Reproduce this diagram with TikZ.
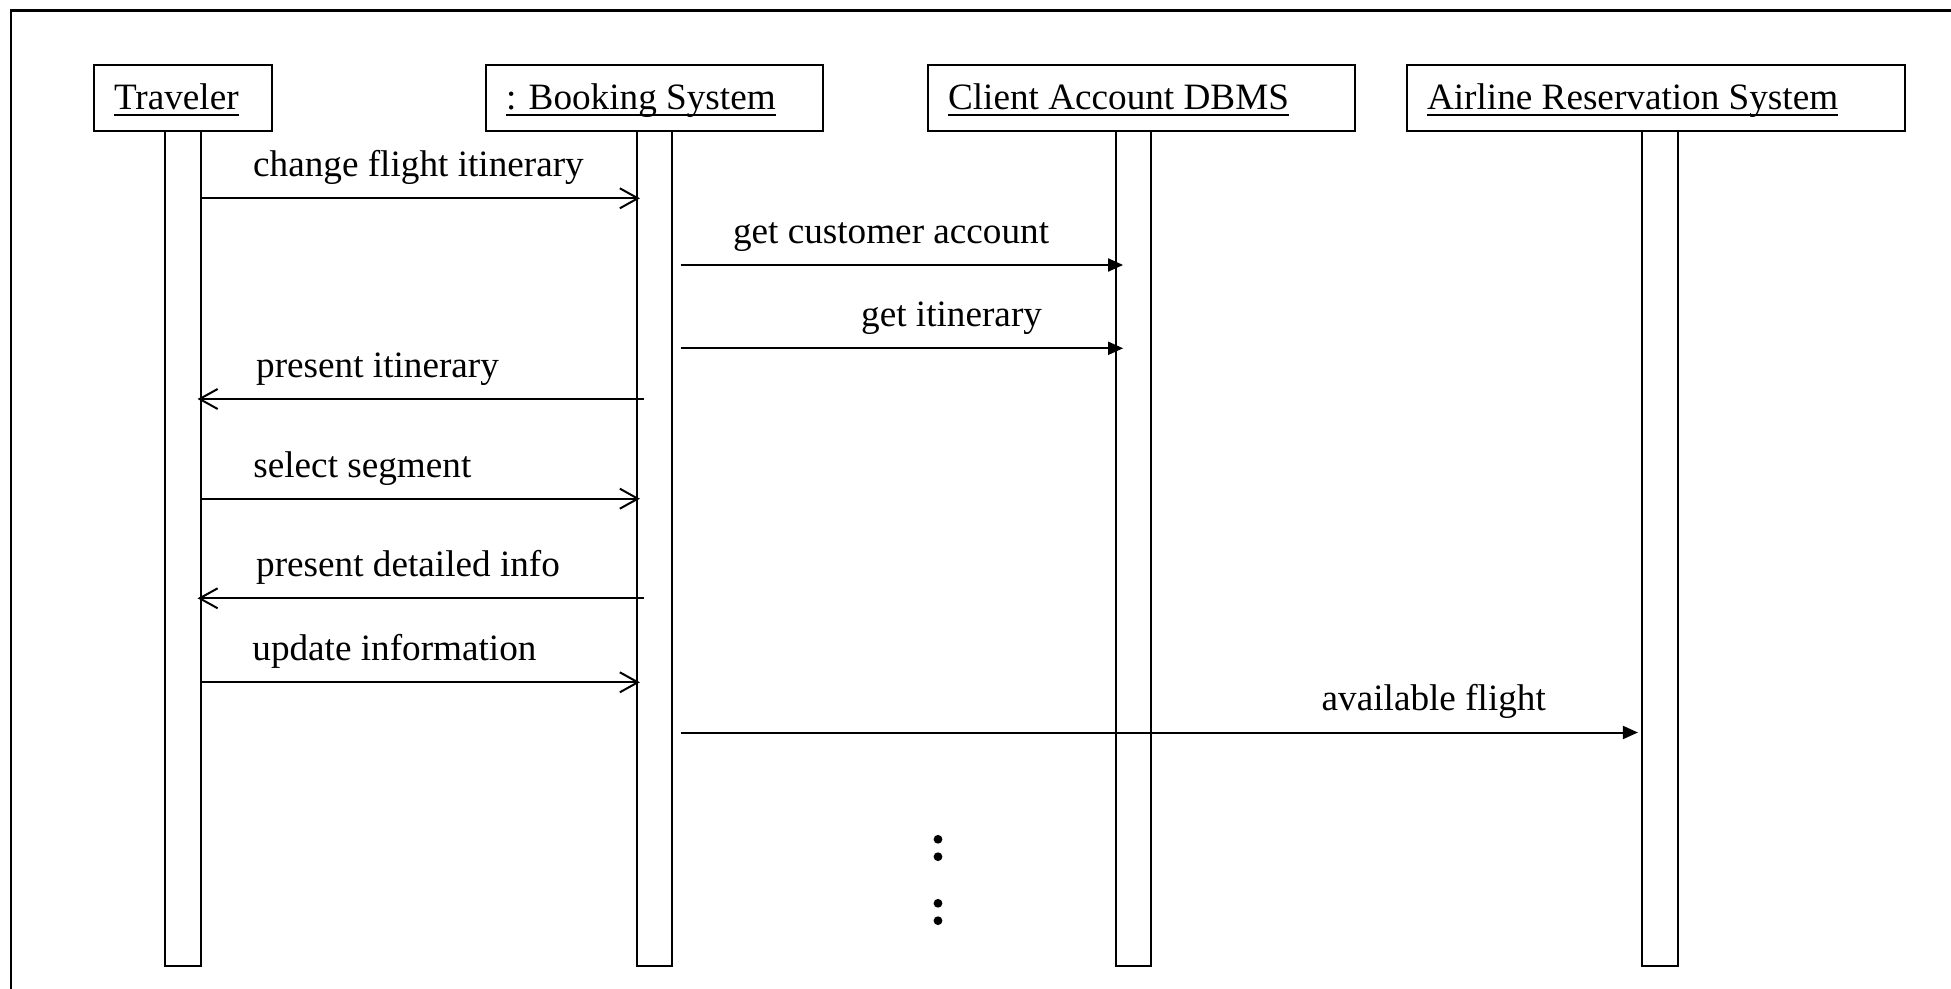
\documentclass[tikz,border=0pt]{standalone}
\usepackage{fontspec}
\setmainfont{Liberation Serif}
\usetikzlibrary{arrows.meta, positioning}
\newcommand{\uname}[1]{\setbox0\hbox{#1}\rlap{\vrule width\wd0 height -2.2pt depth 3.1pt}\box0}

\begin{document}
\begin{tikzpicture}[x=0.5pt, y=-0.5pt, line width=1pt,
	every node/.style={font=\fontsize{18.6}{22}\selectfont},
	head/.style={rectangle, draw, minimum height=33.3pt, inner xsep=10pt, text height=12.7pt, text depth=0.7pt, align=flush left, anchor=west},
	bar/.style={rectangle, draw, minimum width=17.6pt, minimum height=417.5pt, inner sep=0pt},
	open/.style={-{Straight Barb[length=9pt, width=10pt]}},
	call/.style={-{Triangle[length=7.5pt, width=6.5pt]}},
	lbl/.style={anchor=base west, inner sep=0pt}]

		\useasboundingbox (0,0) rectangle (1951,989);
		\draw[line width=1.1pt] (11,989) -- (11,10.5) -- (1951,10.5);

		% objects
		\node[head, text width=69pt] (trav) at (93,98) {\uname{Traveler}};
		\node[head, text width=148.5pt] (book) at (485,98) {\uname{: Booking System}};
		\node[head, text width=193.5pt] (dbms) at (927,98) {\uname{Client Account DBMS}};
		\node[head, text width=229pt] (airl) at (1406,98) {\uname{Airline Reservation System}};

		% lifelines
		\node[bar, below=-1pt of trav] (tbar) {};
		\node[bar, below=-1pt of book] (bbar) {};
		\node[bar, below=-1pt of dbms, xshift=-3.9pt] (dbar) {};
		\node[bar, below=-1pt of airl, xshift=2pt] (abar) {};

		\coordinate (y1) at (0,198.3);
		\coordinate (y2) at (0,265);
		\coordinate (y3) at (0,348.3);
		\coordinate (y4) at (0,399);
		\coordinate (y5) at (0,498.7);
		\coordinate (y6) at (0,598.3);
		\coordinate (y7) at (0,682.3);
		\coordinate (y8) at (0,732.5);

		% messages
		\draw[open, shorten >=-2pt] (tbar.east |- y1) -- (bbar.west |- y1);
		\draw[call, shorten <=3.7pt, shorten >=-4pt] (bbar.east |- y2) -- (dbar.west |- y2);
		\draw[call, shorten <=3.7pt, shorten >=-4pt] (bbar.east |- y3) -- (dbar.west |- y3);
		\draw[open, shorten <=-4pt, shorten >=-2pt] (bbar.west |- y4) -- (tbar.east |- y4);
		\draw[open, shorten >=-2pt] (tbar.east |- y5) -- (bbar.west |- y5);
		\draw[open, shorten <=-4pt, shorten >=-2pt] (bbar.west |- y6) -- (tbar.east |- y6);
		\draw[open, shorten >=-2pt] (tbar.east |- y7) -- (bbar.west |- y7);
		\draw[call, shorten <=3.7pt, shorten >=1.75pt] (bbar.east |- y8) -- (abar.west |- y8);

		\node[lbl] (l1) at (252.2,176.7) {change flight itinerary};
		\node[lbl] (l2) at (732,243.4) {get customer account};
		\node[lbl] (l3) at (860.2,326.7) {get itinerary};
		\node[lbl] (l4) at (255.2,377.4) {present itinerary};
		\node[lbl] (l5) at (252.4,477.1) {select segment};
		\node[lbl] (l6) at (255.2,576.7) {present detailed info};
		\node[lbl] (l7) at (251.4,660.7) {update information};
		\node[lbl] (l8) at (1320.7,710.9) {available flight};

		% more to come
		\foreach \y in {839.3, 856.7, 903.3, 920.7}
			\fill (938,\y) circle[radius=2.2pt];

\end{tikzpicture}
\end{document}
